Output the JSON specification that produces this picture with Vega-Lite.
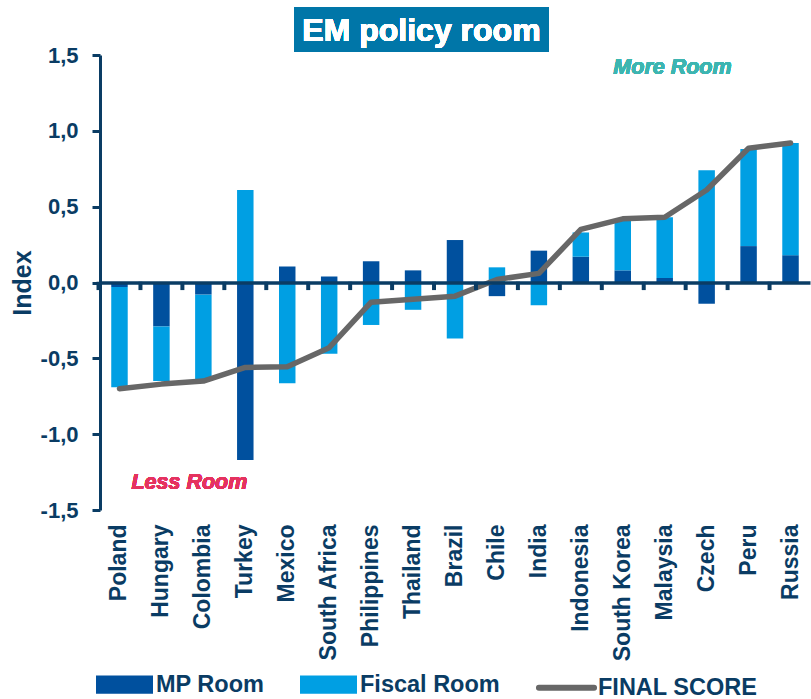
{
  "$schema": "https://vega.github.io/schema/vega-lite/v6.json",
  "width": 710,
  "height": 455,
  "autosize": {"type": "none"},
  "padding": {"left": 100, "top": 55, "right": 1, "bottom": 189},
  "background": "white",
  "config": {"view": {"stroke": null}, "font": "Liberation Sans"},
  "data": {
    "values": [
      {"country": "Poland", "MP Room": -0.03, "Fiscal Room": -0.66, "FINAL SCORE": -0.70},
      {"country": "Hungary", "MP Room": -0.29, "Fiscal Room": -0.36, "FINAL SCORE": -0.67},
      {"country": "Colombia", "MP Room": -0.08, "Fiscal Room": -0.56, "FINAL SCORE": -0.65},
      {"country": "Turkey", "MP Room": -1.17, "Fiscal Room": 0.61, "FINAL SCORE": -0.56},
      {"country": "Mexico", "MP Room": 0.105, "Fiscal Room": -0.665, "FINAL SCORE": -0.555},
      {"country": "South Africa", "MP Room": 0.04, "Fiscal Room": -0.47, "FINAL SCORE": -0.43},
      {"country": "Philippines", "MP Room": 0.14, "Fiscal Room": -0.28, "FINAL SCORE": -0.13},
      {"country": "Thailand", "MP Room": 0.08, "Fiscal Room": -0.18, "FINAL SCORE": -0.11},
      {"country": "Brazil", "MP Room": 0.28, "Fiscal Room": -0.37, "FINAL SCORE": -0.09},
      {"country": "Chile", "MP Room": -0.09, "Fiscal Room": 0.10, "FINAL SCORE": 0.02},
      {"country": "India", "MP Room": 0.21, "Fiscal Room": -0.15, "FINAL SCORE": 0.06},
      {"country": "Indonesia", "MP Room": 0.17, "Fiscal Room": 0.16, "FINAL SCORE": 0.35},
      {"country": "South Korea", "MP Room": 0.08, "Fiscal Room": 0.33, "FINAL SCORE": 0.42},
      {"country": "Malaysia", "MP Room": 0.03, "Fiscal Room": 0.40, "FINAL SCORE": 0.43},
      {"country": "Czech", "MP Room": -0.14, "Fiscal Room": 0.74, "FINAL SCORE": 0.61},
      {"country": "Peru", "MP Room": 0.24, "Fiscal Room": 0.64, "FINAL SCORE": 0.885},
      {"country": "Russia", "MP Room": 0.18, "Fiscal Room": 0.74, "FINAL SCORE": 0.92}
    ]
  },
  "resolve": {"axis": {"x": "independent"}},
  "layer": [
    {
      "transform": [{"fold": ["MP Room", "Fiscal Room"], "as": ["series", "value"]}],
      "mark": {"type": "bar"},
      "encoding": {
        "x": {
          "field": "country", "type": "nominal",
          "scale": {
            "domain": ["Poland", "Hungary", "Colombia", "Turkey", "Mexico", "South Africa", "Philippines", "Thailand", "Brazil", "Chile", "India", "Indonesia", "South Korea", "Malaysia", "Czech", "Peru", "Russia"],
            "paddingInner": 0.607, "paddingOuter": 0.268
          },
          "axis": {
            "orient": "bottom", "title": null, "domain": false, "ticks": false, "tickSize": 0,
            "labelAngle": -90, "labelAlign": "right", "labelBaseline": "middle",
            "labelFont": "Liberation Sans", "labelFontSize": 23, "labelFontWeight": "bold",
            "labelColor": "#0A3C64", "labelPadding": 14, "labelOverlap": false, "labelLimit": 300
          }
        },
        "y": {
          "field": "value", "type": "quantitative", "stack": "zero",
          "scale": {"domain": [-1.5, 1.5], "nice": false, "zero": false},
          "axis": {
            "title": "Index", "titleFont": "Liberation Sans", "titleFontSize": 25, "titleFontWeight": "bold",
            "titleColor": "#0A3C64", "titleX": -78, "titleY": 227.5, "titleAngle": -90,
            "titleAlign": "center", "titleBaseline": "middle",
            "values": [-1.5, -1, -0.5, 0, 0.5, 1, 1.5],
            "labelExpr": "(datum.value < 0 ? '-' : '') + replace(format(abs(datum.value), '.1f'), '.', ',')",
            "labelFont": "Liberation Sans", "labelFontSize": 22, "labelFontWeight": "bold",
            "labelColor": "#0A3C64", "labelPadding": 14,
            "tickSize": 8, "tickWidth": 3, "tickColor": "#0A3C64",
            "domainColor": "#0A3C64", "domainWidth": 3, "grid": false
          }
        },
        "color": {
          "field": "series", "type": "nominal",
          "scale": {"domain": ["MP Room", "Fiscal Room", "FINAL SCORE"], "range": ["#00509E", "#009FE3", "#676767"]},
          "legend": {
            "title": null, "orient": "none", "legendX": -4, "legendY": 601, "direction": "horizontal",
            "labelFont": "Liberation Sans", "labelFontSize": 23.5, "labelFontWeight": "bold",
            "labelColor": "#0A3C64", "labelOffset": 3, "columnPadding": 26,
            "symbolSize": 2601, "symbolStrokeWidth": 6, "labelLimit": 300,
            "encode": {
              "symbols": {
                "update": {
                  "shape": {"signal": "datum.value === 'FINAL SCORE' ? 'M-1.08,0H1.08' : 'M-1,-0.245H1V0.245H-1Z'"},
                  "fill": {"signal": "datum.value === 'FINAL SCORE' ? 'transparent' : (datum.value === 'MP Room' ? '#00509E' : '#009FE3')"},
                  "stroke": {"signal": "datum.value === 'FINAL SCORE' ? '#676767' : 'transparent'"},
                  "strokeCap": {"value": "round"},
                  "opacity": {"value": 1}
                }
              }
            }
          }
        },
        "order": {"field": "series", "sort": "descending"}
      }
    },
    {
      "mark": {"type": "line", "strokeWidth": 5.5, "strokeCap": "round", "strokeJoin": "round"},
      "encoding": {
        "x": {
          "field": "country", "type": "nominal",
          "axis": {
            "orient": "bottom", "offset": -227.5, "labels": false, "title": null,
            "domain": true, "domainColor": "#0A3C64", "domainWidth": 3.5,
            "ticks": false, "zindex": 1, "grid": false
          }
        },
        "y": {"field": "FINAL SCORE", "type": "quantitative"},
        "color": {"datum": "FINAL SCORE", "type": "nominal"}
      }
    },
    {
      "mark": {"type": "bar", "fill": "#0A3C64", "width": 4, "xOffset": -20.97},
      "encoding": {
        "x": {"field": "country", "type": "nominal", "axis": null},
        "y": {"datum": 0.005, "type": "quantitative"},
        "y2": {"datum": -0.05}
      }
    },
    {
      "mark": {"type": "rect", "fill": "#0076A8", "width": 254, "xOffset": 8.4},
      "encoding": {
        "x": {"datum": "Thailand", "type": "nominal", "axis": null},
        "y": {"datum": 1.8165, "type": "quantitative"},
        "y2": {"datum": 1.5198}
      }
    },
    {
      "mark": {"type": "text", "color": "white", "font": "Liberation Sans", "fontSize": 32, "fontWeight": "bold", "align": "center", "baseline": "middle", "dx": 8.4, "dy": 1},
      "encoding": {
        "x": {"datum": "Thailand", "type": "nominal", "axis": null},
        "y": {"datum": 1.668, "type": "quantitative"},
        "text": {"value": "EM policy room"}
      }
    },
    {
      "mark": {"type": "text", "color": "#3DB5B1", "font": "Liberation Sans", "fontSize": 21.5, "fontWeight": "bold", "fontStyle": "italic", "align": "center", "baseline": "middle", "dx": 7.8},
      "encoding": {
        "x": {"datum": "Malaysia", "type": "nominal", "axis": null},
        "y": {"datum": 1.411, "type": "quantitative"},
        "text": {"value": "More Room"}
      }
    },
    {
      "mark": {"type": "text", "color": "#E5325F", "font": "Liberation Sans", "fontSize": 21.5, "fontWeight": "bold", "fontStyle": "italic", "align": "center", "baseline": "middle", "dx": 28},
      "encoding": {
        "x": {"datum": "Hungary", "type": "nominal", "axis": null},
        "y": {"datum": -1.322, "type": "quantitative"},
        "text": {"value": "Less Room"}
      }
    }
  ]
}
